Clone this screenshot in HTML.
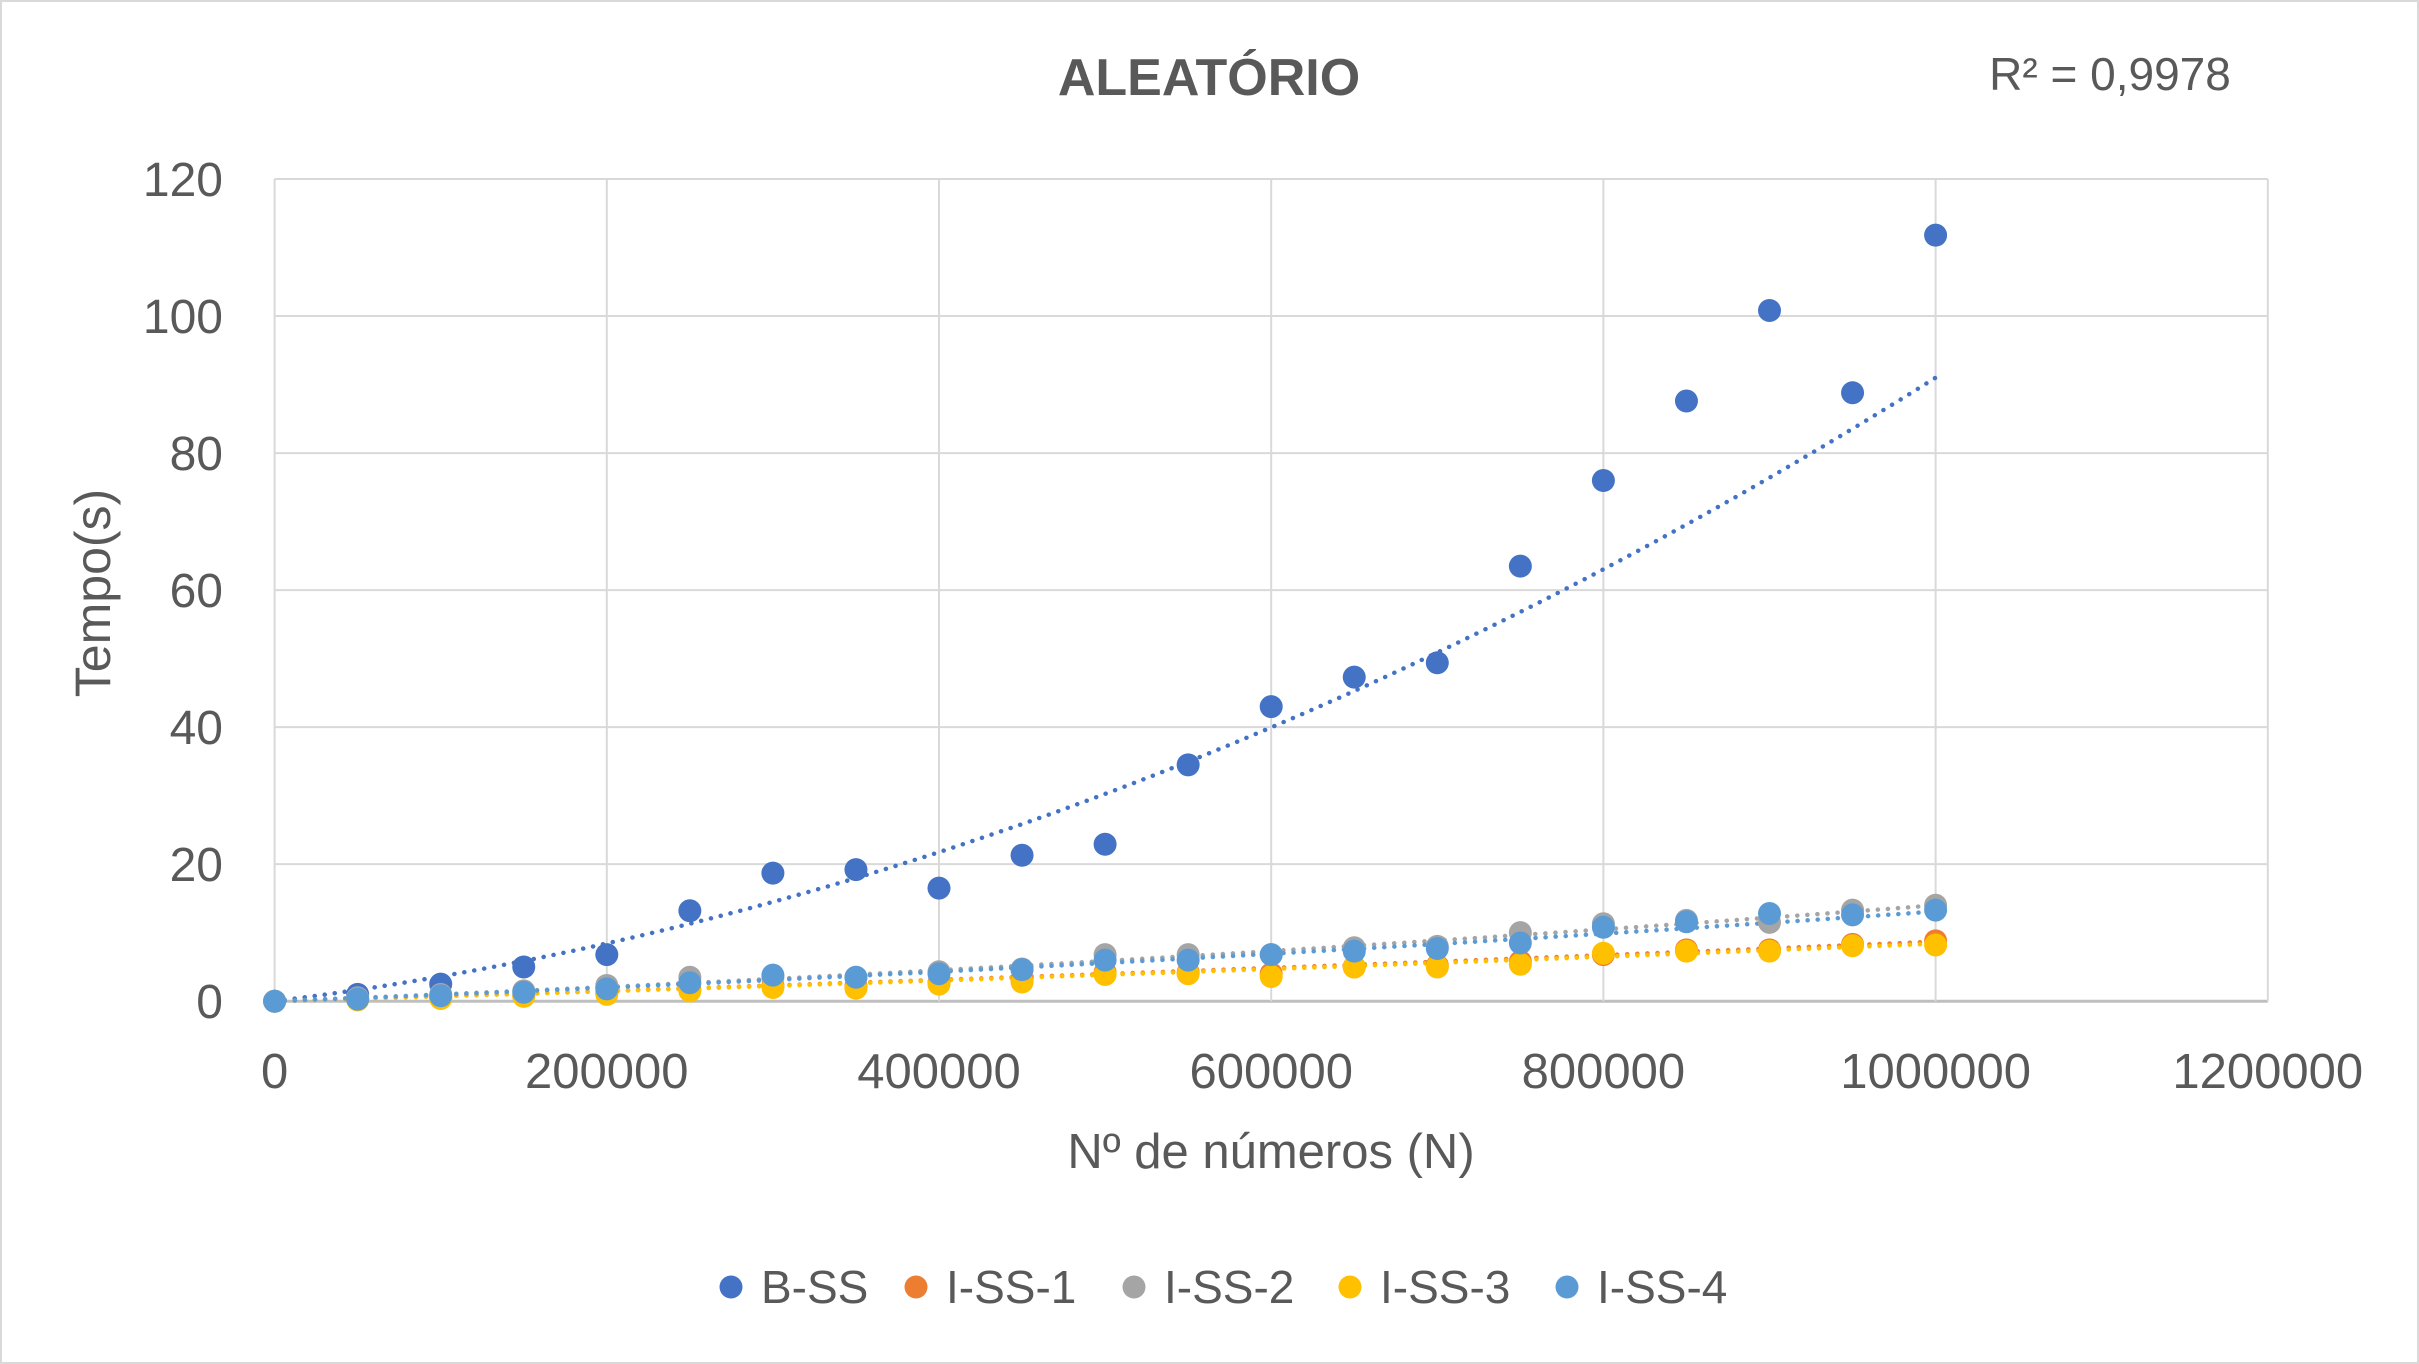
<!DOCTYPE html>
<html><head><meta charset="utf-8">
<style>
html,body{margin:0;padding:0;background:#fff;}
svg{display:block;font-family:"Liberation Sans",sans-serif;}
</style></head>
<body>
<svg id="chart" width="2419" height="1364" viewBox="0 0 2419 1364">
<rect x="1" y="1" width="2417" height="1362" fill="#fff" stroke="#d9d9d9" stroke-width="2"/>
<g id="grid"></g>
<g id="trends"></g>
<g id="marks"></g>
<g id="ticks"></g>
<text x="1209" y="95" text-anchor="middle" font-size="52" font-weight="bold" fill="#595959">ALEATÓRIO</text>
<text x="2110" y="90" text-anchor="middle" font-size="46" fill="#595959">R² = 0,9978</text>
<text x="1271" y="1168" text-anchor="middle" font-size="49" fill="#595959">Nº de números (N)</text>
<text transform="translate(110,593) rotate(-90)" text-anchor="middle" font-size="50" fill="#595959">Tempo(s)</text>
<g id="legend"></g>
</svg>
<script>
const xValues=[0,50000,100000,150000,200000,250000,300000,350000,400000,450000,500000,550000,600000,650000,700000,750000,800000,850000,900000,950000,1000000];
const seriesNames=["B-SS","I-SS-1","I-SS-2","I-SS-3","I-SS-4"];
const seriesColors=["#4472c4","#ed7d31","#a5a5a5","#ffc000","#5b9bd5"];
const bss=[0,1,2.5,5,6.8,13.2,18.7,19.2,16.5,21.3,22.9,34.5,43,47.3,49.4,63.5,76,87.6,100.8,88.8,111.8];
const iss1=[0,0.3,0.5,0.8,1.2,1.7,2.3,2.2,2.7,3,4.2,4.2,4,5,5.2,5.8,6.8,7.5,7.5,8.3,8.8];
const iss2=[0,0.5,1,1.5,2.3,3.5,3.5,3.5,4.3,4.7,6.8,6.8,6.8,7.8,8,10,11.3,11.8,11.5,13.3,14];
const iss3=[0,0.2,0.4,0.7,1,1.5,2,1.9,2.5,2.8,3.9,4,3.6,5,5,5.4,7,7.3,7.3,8.1,8.2];
const iss4=[0,0.3,0.8,1.3,1.8,2.7,3.8,3.5,4,4.6,6,6,6.8,7.3,7.7,8.5,10.8,11.6,12.8,12.6,13.3];
const allSeries=[bss,iss1,iss2,iss3,iss4];
// trendline coefficients [u, u^2] with u = N/1e6 (as drawn in the reference)
const bssTrend=[30,61];
const iss1Trend=[7.2,1.5];
const iss2Trend=[9.5,4.5];
const iss3Trend=[7.0,1.4];
const iss4Trend=[9.2,3.9];
const allTrends=[bssTrend,iss1Trend,iss2Trend,iss3Trend,iss4Trend];
const xTicks=[0,200000,400000,600000,800000,1000000,1200000];
const yTicks=[0,20,40,60,80,100,120];

const NS="http://www.w3.org/2000/svg";
const X0=274.6,X1=2267.8,Y0=1001.2,Y1=179;
const sx=v=>X0+(v/1200000)*(X1-X0);
const sy=v=>Y0-(v/120)*(Y0-Y1);
function mk(tag,attrs,parent){const e=document.createElementNS(NS,tag);for(const k in attrs)e.setAttribute(k,attrs[k]);parent.appendChild(e);return e;}
const grid=document.getElementById('grid'),ticks=document.getElementById('ticks'),marks=document.getElementById('marks'),trends=document.getElementById('trends'),legend=document.getElementById('legend');

yTicks.forEach(t=>{
  const l=mk('line',{x1:X0,x2:X1,y1:sy(t),y2:sy(t),stroke:t===0?'#bfbfbf':'#d9d9d9','stroke-width':t===0?3:2},grid);
  
  
  const tx=mk('text',{x:223,y:sy(t)+17,'text-anchor':'end','font-size':48,fill:'#595959'},ticks);
  tx.textContent=t;
  
  
});
xTicks.forEach(t=>{
  const l=mk('line',{x1:sx(t),x2:sx(t),y1:Y1,y2:Y0,stroke:'#d9d9d9','stroke-width':2},grid);
  
  
  const tx=mk('text',{x:sx(t),y:1088,'text-anchor':'middle','font-size':49,fill:'#595959'},ticks);
  tx.textContent=t;
  
  
});

allTrends.forEach((c,si)=>{
  let d='';
  for(let k=0;k<=100;k++){const x=k*10000;const u=x/1e6;const v=c[0]*u+c[1]*u*u;d+=(k?'L':'M')+sx(x).toFixed(1)+','+sy(v).toFixed(1);}
  const p=mk('path',{d:d,fill:'none',stroke:seriesColors[si],'stroke-width':4.5,'stroke-dasharray':'0.1 10','stroke-linecap':'round'},trends);
  
  
});
allSeries.forEach((ys,si)=>{
  ys.forEach((v,k)=>{
    const c=mk('circle',{cx:sx(xValues[k]),cy:sy(v),r:11.5,fill:seriesColors[si]},marks);
    
    
  });
});
const legX=[731,916,1134,1350,1567];
seriesNames.forEach((n,i)=>{
  const c=mk('circle',{cx:legX[i],cy:1287,r:11.5,fill:seriesColors[i]},legend);
  
  
  const t=mk('text',{x:legX[i]+30,y:1303,'font-size':46,fill:'#595959'},legend);
  t.textContent=n;
  
  
});
</script>
</body></html>
